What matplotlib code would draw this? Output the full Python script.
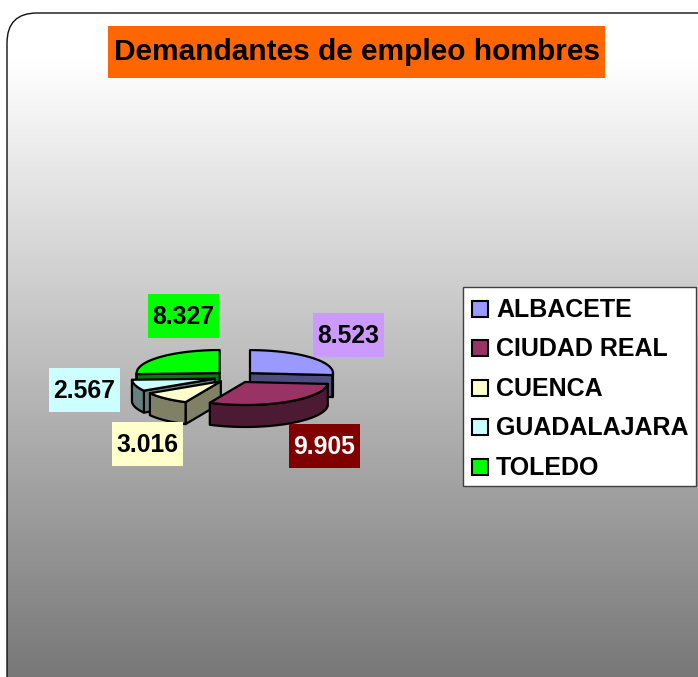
"""
Demandantes de empleo hombres - exploded 3D pie with legend
"""
import matplotlib
matplotlib.use('Agg')
import matplotlib.pyplot as plt
import numpy as np
from matplotlib.patches import Polygon, Rectangle, FancyBboxPatch

# ------------------------------------------------------------------ data
provinces = ['ALBACETE', 'CIUDAD REAL', 'CUENCA', 'GUADALAJARA', 'TOLEDO']
demand    = [8523, 9905, 3016, 2567, 8327]
top_cols  = ['#9999FF', '#993366', '#FFFFCC', '#CCFFFF', '#00FF00']
lab_cols  = ['#CC99FF', '#800000', '#FFFFCC', '#CCFFFF', '#00FF00']
lab_text  = ['black', 'white', 'black', 'black', 'black']
title     = 'Demandantes de empleo hombres'

# ------------------------------------------------------------------ layout (pixels)
W, H = 698, 677
CX, CY = 234.7, 377.0        # pie centre
RX, RY = 83.0, 23.0          # ellipse radii of the top face
DEPTH = 22.0                 # thickness of the pie
EXPLODE = 0.25               # explode distance relative to radius
lab_pos = [(348.5, 335), (324, 445.5), (147.5, 443.5), (84, 389.5), (183.5, 316)]
lab_w, lab_h = 71, 44
FONT = 'Liberation Sans'

plt.rcParams['font.family'] = [FONT, 'DejaVu Sans']
fig = plt.figure(figsize=(W / 100, H / 100), dpi=100)
ax = fig.add_axes([0, 0, 1, 1])
ax.set_xlim(0, W)
ax.set_ylim(H, 0)
ax.axis('off')

# rounded frame with vertical grey gradient
frame = FancyBboxPatch((7, 13), W + 40, H + 40, boxstyle='round,pad=0,rounding_size=30',
                       fc='none', ec='#101010', lw=1.0, zorder=2)
ax.add_patch(frame)
rows = np.linspace(13, H + 53, 400)
grey = np.clip(255 - (rows - 60) * (135.0 / (H - 60)), 0, 255) / 255.0
grey = np.minimum(grey, 1.0)
img = np.dstack([grey, grey, grey])[:, None, :].reshape(len(rows), 1, 3)
im = ax.imshow(img, extent=(7, W + 47, H + 53, 13), origin='upper', aspect='auto',
               interpolation='bilinear', zorder=1)
im.set_clip_path(frame)

# title
ax.add_patch(Rectangle((108, 26), 497, 52, fc='#FF6600', ec='none', zorder=3))
ax.text(357, 52, title, ha='center', va='center', fontsize=21.5, fontweight='bold',
        color='black', zorder=4)


# ------------------------------------------------------------------ 3D pie
def darker(c, f=0.5):
    r, g, b = matplotlib.colors.to_rgb(c)
    return (r * f, g * f, b * f)


def rim(ax0, ay0, angs, dy=0.0):
    a = np.radians(angs)
    return np.column_stack([ax0 + RX * np.cos(a), ay0 - RY * np.sin(a) + dy])


vals = np.asarray(demand, dtype=float)
cum = np.concatenate([[0], np.cumsum(vals)]) / vals.sum()
starts = 90 - cum[:-1] * 360     # clockwise from 12 o'clock
ends = 90 - cum[1:] * 360

slices = []
for i in range(len(vals)):
    a1, a2 = ends[i], starts[i]   # counter-clockwise range
    mid = 0.5 * (a1 + a2)
    apx = CX + EXPLODE * RX * np.cos(np.radians(mid))
    apy = CY - EXPLODE * RY * np.sin(np.radians(mid))
    slices.append((np.sin(np.radians(mid)), i, a1, a2, apx, apy))

slices.sort(key=lambda s: -s[0])   # back to front
z = 10
kw = dict(ec='black', lw=1.6, joinstyle='round')
for _, i, a1, a2, apx, apy in slices:
    side = darker(top_cols[i])
    # radial faces that face the viewer
    for a, vis in ((a1, np.cos(np.radians(a1)) > 0), (a2, np.cos(np.radians(a2)) < 0)):
        if vis:
            p = rim(apx, apy, [a])[0]
            face = [(apx, apy), tuple(p), (p[0], p[1] + DEPTH), (apx, apy + DEPTH)]
            ax.add_patch(Polygon(face, closed=True, fc=side, zorder=z, **kw))
            z += 1
    # outer wall, front half only
    lo, hi = max(a1, -180), min(a2, 0)
    if hi > lo:
        angs = np.linspace(lo, hi, 60)
        top = rim(apx, apy, angs)
        bot = rim(apx, apy, angs[::-1], DEPTH)
        ax.add_patch(Polygon(np.vstack([top, bot]), closed=True, fc=side, zorder=z, **kw))
        z += 1
    # top face
    angs = np.linspace(a1, a2, 120)
    pts = np.vstack([[apx, apy], rim(apx, apy, angs)])
    ax.add_patch(Polygon(pts, closed=True, fc=top_cols[i], zorder=z, **kw))
    z += 1

# data labels
for i, (lx, ly) in enumerate(lab_pos):
    ax.add_patch(Rectangle((lx - lab_w / 2, ly - lab_h / 2), lab_w, lab_h,
                           fc=lab_cols[i], ec='none', zorder=50))
    ax.text(lx, ly + 1, f'{demand[i]:,}'.replace(',', '.'), ha='center', va='center',
            fontsize=17.8, fontweight='bold', color=lab_text[i], zorder=51)

# legend
ax.add_patch(Rectangle((463, 287), 233, 199, fc='white', ec='#404040', lw=1.0, zorder=50))
for k, name in enumerate(provinces):
    yy = 309 + k * 39.4
    ax.add_patch(Rectangle((472, yy - 8), 16, 16, fc=top_cols[k], ec='black', lw=1.5, zorder=51))
    ax.text(496, yy + 1, name, ha='left', va='center', fontsize=18, fontweight='bold',
            color='black', zorder=51)

fig.savefig('out.png', dpi=100)
